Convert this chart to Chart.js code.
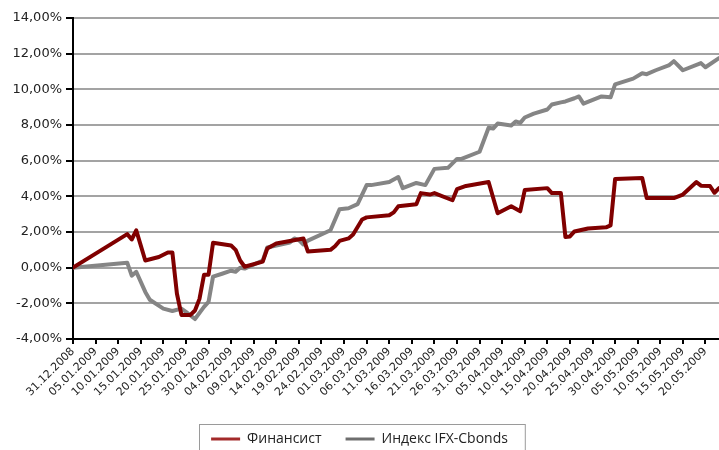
<!DOCTYPE html>
<html>
<head>
<meta charset="utf-8">
<script src="https://cdn.jsdelivr.net/npm/chart.js@4"></script>
<style>
  html, body { margin: 0; padding: 0; width: 719px; height: 450px; overflow: hidden; background: #fff; }
  #wrap { width: 719px; height: 456px; }
</style>
</head>
<body>
<div id="wrap"><canvas id="chartContainer" width="719" height="456"></canvas></div>
<script>
// 日付ラベル (5日ごと)
const tickLabels = ["31.12.2008", "05.01.2009", "10.01.2009", "15.01.2009", "20.01.2009", "25.01.2009",
    "30.01.2009", "04.02.2009", "09.02.2009", "14.02.2009", "19.02.2009", "24.02.2009", "01.03.2009",
    "06.03.2009", "11.03.2009", "16.03.2009", "21.03.2009", "26.03.2009", "31.03.2009", "05.04.2009",
    "10.04.2009", "15.04.2009", "20.04.2009", "25.04.2009", "30.04.2009", "05.05.2009", "10.05.2009",
    "15.05.2009", "20.05.2009"];
const tickDays = [0, 5, 10, 15, 20, 25, 30, 35, 40, 45, 50, 55, 60, 65, 70, 75, 80, 85, 90, 95,
    100, 105, 110, 115, 120, 125, 130, 135, 140];
const lastDay = 143;

// Финансист (дни от 31.12.2008, %)
const finDays = [0, 12, 13, 14, 16, 19, 21, 22, 23, 24, 26, 27, 28, 29, 30, 31, 35, 36, 37, 38, 42, 43, 45, 48,
    51, 52, 57, 58, 59, 61, 62, 64, 65, 70, 71, 72, 76, 77, 79, 80, 84, 85, 87, 92, 94, 97, 99, 100, 105, 106,
    108, 109, 110, 111, 114, 118, 119, 120, 126, 127, 133, 135, 138, 139, 141, 142, 143];
const finValues = [0, 1.88, 1.58, 2.09, 0.4, 0.6, 0.85, 0.85, -1.45, -2.65, -2.65, -2.4, -1.75, -0.4, -0.4, 1.4,
    1.24, 1.0, 0.4, 0.05, 0.34, 1.07, 1.36, 1.5, 1.64, 0.9, 1.0, 1.2, 1.5, 1.64, 1.86, 2.7, 2.82, 2.94, 3.1,
    3.44, 3.55, 4.18, 4.1, 4.18, 3.78, 4.4, 4.58, 4.8, 3.05, 3.44, 3.16, 4.35, 4.46, 4.18, 4.18, 1.72, 1.75,
    2.03, 2.2, 2.26, 2.37, 4.97, 5.03, 3.9, 3.9, 4.1, 4.8, 4.6, 4.58, 4.2, 4.46];

// Индекс IFX-Cbonds
const idxDays = [0, 12, 13, 14, 16, 17, 20, 22, 24, 25, 27, 29, 30, 31, 33, 35, 36, 37, 38, 42, 43, 48, 49, 50,
    51, 52, 57, 59, 61, 63, 65, 66, 70, 72, 73, 76, 78, 80, 83, 85, 86, 90, 92, 93, 94, 97, 98, 99, 100, 102,
    105, 106, 108, 109, 111, 112, 113, 117, 119, 120, 124, 126, 127, 129, 132, 133, 135, 139, 140, 143];
const idxValues = [0, 0.28, -0.45, -0.23, -1.36, -1.8, -2.3, -2.43, -2.3, -2.48, -2.88, -2.2, -1.92, -0.5,
    -0.34, -0.17, -0.23, 0, -0.05, 0.4, 1.13, 1.41, 1.64, 1.55, 1.3, 1.52, 2.1, 3.28, 3.33, 3.56, 4.63, 4.63,
    4.8, 5.08, 4.46, 4.75, 4.63, 5.54, 5.6, 6.1, 6.1, 6.5, 7.85, 7.8, 8.08, 7.97, 8.2, 8.12, 8.42, 8.64, 8.87,
    9.15, 9.27, 9.32, 9.5, 9.6, 9.2, 9.6, 9.55, 10.28, 10.6, 10.9, 10.85, 11.07, 11.36, 11.58, 11.07, 11.47,
    11.24, 11.75];

function toPoints(days, values) {
    return days.map((d, i) => ({ x: d, y: values[i] }));
}

// 凡例の枠
const legendFrame = {
    id: 'legendFrame',
    afterDraw(chart) {
        const boxes = chart.legend.legendHitBoxes;
        if (!boxes || !boxes.length) return;
        const ctx = chart.ctx;
        const first = boxes[0];
        const last = boxes[boxes.length - 1];
        const left = first.left - 12;
        const right = last.left + last.width + 17;
        const top = first.top - 8;
        ctx.save();
        ctx.strokeStyle = '#9a9a9a';
        ctx.lineWidth = 1;
        ctx.strokeRect(Math.round(left) + 0.5, Math.round(top) + 0.5, right - left, chart.height);
        ctx.restore();
    }
};

const ctx = document.getElementById('chartContainer').getContext('2d');
new Chart(ctx, {
    type: 'line',
    data: {
        datasets: [
            {
                label: 'Финансист',
                data: toPoints(finDays, finValues),
                borderColor: '#800000',
                backgroundColor: '#a32a2a',
                borderWidth: 4,
                pointRadius: 0,
                tension: 0,
                borderJoinStyle: 'round',
                borderCapStyle: 'round'
            },
            {
                label: 'Индекс IFX-Cbonds',
                data: toPoints(idxDays, idxValues),
                borderColor: '#858585',
                backgroundColor: '#6e6e6e',
                borderWidth: 4,
                pointRadius: 0,
                tension: 0,
                borderJoinStyle: 'round',
                borderCapStyle: 'round'
            }
        ]
    },
    options: {
        responsive: false,
        animation: false,
        layout: { padding: { top: 18, right: 0, left: 0, bottom: 0 } },
        scales: {
            x: {
                type: 'linear',
                min: 0,
                max: lastDay,
                afterBuildTicks: s => { s.ticks = tickDays.map(v => ({ value: v })); },
                afterFit: s => { s.height = 69; },
                grid: { drawOnChartArea: false, drawTicks: true, tickLength: 5, tickColor: '#000', lineWidth: 2 },
                border: { color: '#000', width: 2 },
                ticks: {
                    autoSkip: false,
                    minRotation: 45,
                    maxRotation: 45,
                    padding: 1,
                    color: '#222',
                    font: { family: 'DejaVu Sans', size: 11 },
                    callback: v => tickLabels[tickDays.indexOf(v)]
                }
            },
            y: {
                min: -4,
                max: 14,
                afterFit: s => { s.width = 73; },
                grid: { color: '#a3a3a3', lineWidth: 2, tickColor: '#000', tickLength: 7 },
                border: { color: '#000', width: 2 },
                ticks: {
                    stepSize: 2,
                    padding: 4,
                    color: '#222',
                    font: { family: 'DejaVu Sans', size: 13 },
                    callback: v => v.toFixed(2).replace('.', ',') + '%'
                }
            }
        },
        plugins: {
            legend: {
                position: 'bottom',
                labels: {
                    boxWidth: 29,
                    boxHeight: 3,
                    padding: 24,
                    color: '#222',
                    font: { family: 'Open Sans', size: 14 },
                    generateLabels: chart => Chart.defaults.plugins.legend.labels.generateLabels(chart)
                        .map(item => Object.assign(item, { lineWidth: 0, strokeStyle: 'rgba(0,0,0,0)' }))
                }
            },
            tooltip: { enabled: false }
        }
    },
    plugins: [legendFrame]
});
</script>
</body>
</html>
